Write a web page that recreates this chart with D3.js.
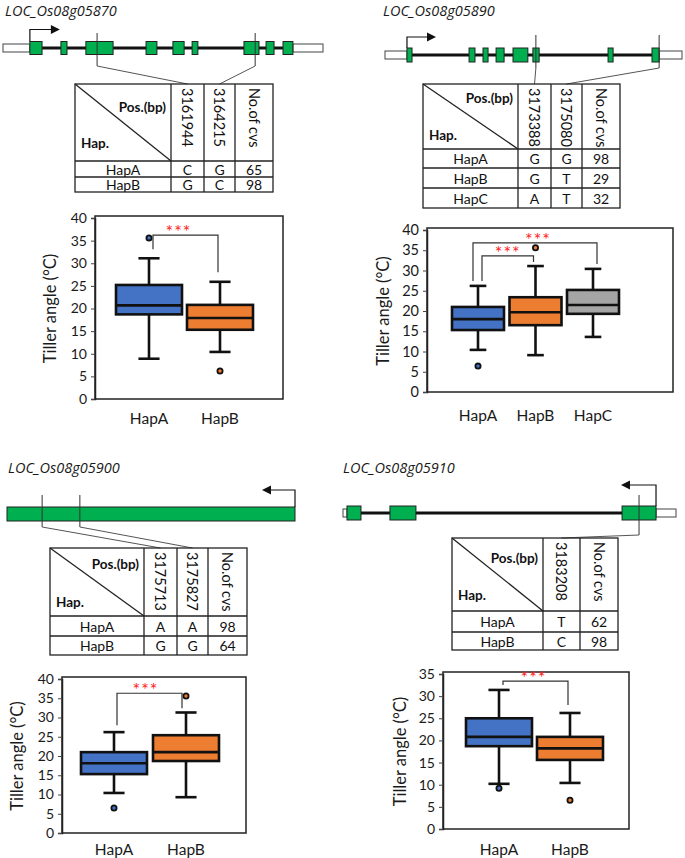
<!DOCTYPE html>
<html><head><meta charset="utf-8">
<script src="https://cdn.jsdelivr.net/npm/d3@7"></script>
<style>body{margin:0;background:#fff}</style>
</head><body>
<svg id="c" width="685" height="858"></svg>
<script>
// ---------------- DATA ----------------
const geneNames = ["LOC_Os08g05870", "LOC_Os08g05890", "LOC_Os08g05900", "LOC_Os08g05910"];

// gene models, in % of drawn gene length
const utr1 = [[0, 8.4], [90.6, 100]];
const exons1 = [[8.4, 12.2], [18.1, 20.0], [25.9, 34.4], [44.7, 48.1], [53.1, 56.6], [59.1, 60.9], [75.3, 80.0], [82.2, 84.7], [87.5, 90.6]];
const snps1 = [29.4, 78.8];

const utr2 = [[0, 7.4], [92.3, 100]];
const exons2 = [[7.4, 9.1], [28.3, 30.3], [33.0, 34.7], [37.4, 40.1], [43.1, 48.1], [49.8, 51.9], [75.1, 76.8], [89.9, 92.3]];
const snps2 = [50.8, 92.3];

const utr3 = [];
const exons3 = [[0, 100]];
const snps3 = [12.2, 25.3];

const utr4 = [[0, 1.2], [94.0, 100]];
const exons4 = [[1.2, 5.4], [14.1, 21.9], [83.8, 94.0]];
const snps4 = [88.9];

// haplotype tables
const positions1 = ["3161944", "3164215"];
const haps1 = ["HapA", "HapB"];
const alleles1 = [["C", "G"], ["G", "C"]];
const cvs1 = [65, 98];

const positions2 = ["3173388", "3175080"];
const haps2 = ["HapA", "HapB", "HapC"];
const alleles2 = [["G", "G"], ["G", "T"], ["A", "T"]];
const cvs2 = [98, 29, 32];

const positions3 = ["3175713", "3175827"];
const haps3 = ["HapA", "HapB"];
const alleles3 = [["A", "A"], ["G", "G"]];
const cvs3 = [98, 64];

const positions4 = ["3183208"];
const haps4 = ["HapA", "HapB"];
const alleles4 = [["T"], ["C"]];
const cvs4 = [62, 98];

// box plot statistics (tiller angle)
const box1 = [
  {hap: "HapA", min: 8.9, q1: 18.7, med: 20.7, q3: 25.2, max: 31.1, out: [35.6]},
  {hap: "HapB", min: 10.4, q1: 15.3, med: 17.9, q3: 20.8, max: 25.9, out: [6.2]}
];
const box2 = [
  {hap: "HapA", min: 10.4, q1: 15.3, med: 18.0, q3: 21.0, max: 26.2, out: [6.4]},
  {hap: "HapB", min: 9.1, q1: 16.5, med: 19.7, q3: 23.4, max: 31.1, out: [35.6]},
  {hap: "HapC", min: 13.6, q1: 19.3, med: 21.5, q3: 25.2, max: 30.4, out: []}
];
const box3 = [
  {hap: "HapA", min: 10.4, q1: 15.3, med: 18.1, q3: 21.0, max: 26.2, out: [6.5]},
  {hap: "HapB", min: 9.3, q1: 18.7, med: 21.0, q3: 25.4, max: 31.3, out: [35.6]}
];
const box4 = [
  {hap: "HapA", min: 10.2, q1: 18.7, med: 20.8, q3: 25.0, max: 31.4, out: [9.2]},
  {hap: "HapB", min: 10.4, q1: 15.6, med: 18.2, q3: 20.8, max: 26.2, out: [6.5]}
];

// significance brackets: [from, to, level, end at from, end at to]
const sig1 = [[0, 1, 36.2, 33.1, 28.0]];
const sig2 = [[0, 1, 33.6, 27.4, 32.1], [0, 2, 36.8, 27.4, 31.6]];
const sig3 = [[0, 1, 36.3, 28.0, 32.4]];
const sig4 = [[0, 1, 33.4, 32.5, 28.0]];
const sigLabel = "***";

const yTicks40 = [0, 5, 10, 15, 20, 25, 30, 35, 40];
const yTicks35 = [0, 5, 10, 15, 20, 25, 30, 35];
const yTitle = "Tiller angle (°C)";
const colors = ["#4472C4", "#ED7D31", "#A5A5A5"];

// ---------------- LAYOUT ----------------
const panels = [
  {name: geneNames[0], utr: utr1, exons: exons1, snps: snps1, positions: positions1, haps: haps1, alleles: alleles1, cvs: cvs1, box: box1, sig: sig1, ticks: yTicks40,
   title: [5, 16],
   gene: {x0: 3, x1: 323, y: 48, exonH: 13, utrH: 8, tss: 8.4, dir: 1, up: 12, len: 30, snpTop: 33, snpBot: 66},
   table: {cols: [75, 171, 204, 235, 273], rows: [84, 161, 177, 192], posDy: 28, hapDy: -13},
   plot: {left: 95, right: 283, yTop: 218, yBot: 399, centers: [149, 220], boxW: 66, labY: 424, sigDx: [[4, -2]], starDx: [-7], tickFs: 14, titleX: 50}},
  {name: geneNames[1], utr: utr2, exons: exons2, snps: snps2, positions: positions2, haps: haps2, alleles: alleles2, cvs: cvs2, box: box2, sig: sig2, ticks: yTicks40,
   title: [383, 16],
   gene: {x0: 385, x1: 682, y: 55, exonH: 14, utrH: 8, tss: 7.4, dir: 1, up: 11, len: 29, snpTop: 35, snpBot: 68},
   table: {cols: [423, 518, 551, 582, 620], rows: [84, 149, 168, 188, 208], posDy: 19, hapDy: -9},
   plot: {left: 427, right: 673, yTop: 230, yBot: 392, centers: [478, 535, 593], boxW: 52, labY: 421, sigDx: [[4, -2], [-5, 4]], starDx: [0, 3], tickFs: 14.5, titleX: 383}},
  {name: geneNames[2], utr: utr3, exons: exons3, snps: snps3, positions: positions3, haps: haps3, alleles: alleles3, cvs: cvs3, box: box3, sig: sig3, ticks: yTicks40,
   title: [8, 473],
   gene: {x0: 7, x1: 295, y: 514, exonH: 14, utrH: 8, tss: 100, dir: -1, up: 17, len: 33, snpTop: 495, snpBot: 527},
   table: {cols: [50, 144, 177, 208, 247], rows: [548, 616, 636, 655], posDy: 21, hapDy: -9},
   plot: {left: 62, right: 246, yTop: 679, yBot: 833, centers: [114, 186], boxW: 66, labY: 855, sigDx: [[3, -4]], starDx: [-4], tickFs: 14, titleX: 17}},
  {name: geneNames[3], utr: utr4, exons: exons4, snps: snps4, positions: positions4, haps: haps4, alleles: alleles4, cvs: cvs4, box: box4, sig: sig4, ticks: yTicks35,
   title: [343, 473],
   gene: {x0: 343, x1: 676, y: 513, exonH: 14, utrH: 8, tss: 94.0, dir: -1, up: 21, len: 35, snpTop: 495, snpBot: 535},
   table: {cols: [452, 543, 580, 618], rows: [538, 611, 632, 650], posDy: 25, hapDy: -11},
   plot: {left: 443, right: 629, yTop: 674, yBot: 829, centers: [499, 570], boxW: 66, labY: 855, sigDx: [[4, -2]], starDx: [-2], tickFs: 14, titleX: 400}}
];

// ---------------- DRAW ----------------
const svg = d3.select("#c");
const FONT = "Lato, 'Open Sans', sans-serif";

panels.forEach(P => {
  const g = svg.append("g");

  // title
  g.append("text").attr("x", P.title[0]).attr("y", P.title[1])
    .attr("font-family", "'Open Sans', sans-serif").attr("font-style", "italic")
    .attr("font-size", 14.5).attr("fill", "#1a1a1a").text(P.name);

  // gene model
  const G = P.gene;
  const gx = d3.scaleLinear().domain([0, 100]).range([G.x0, G.x1]);
  g.append("line").attr("x1", gx(0)).attr("x2", gx(100)).attr("y1", G.y).attr("y2", G.y)
    .attr("stroke", "#111").attr("stroke-width", 3);
  g.selectAll(".utr").data(P.utr).join("rect")
    .attr("x", d => gx(d[0])).attr("width", d => gx(d[1]) - gx(d[0]))
    .attr("y", G.y - G.utrH / 2).attr("height", G.utrH)
    .attr("fill", "#fff").attr("stroke", "#444").attr("stroke-width", 1);
  g.selectAll(".exon").data(P.exons).join("rect")
    .attr("x", d => gx(d[0])).attr("width", d => gx(d[1]) - gx(d[0]))
    .attr("y", G.y - G.exonH / 2).attr("height", G.exonH)
    .attr("fill", "#00B050").attr("stroke", "#222").attr("stroke-width", 1);
  // TSS arrow
  const tx = gx(G.tss), ttop = G.y - G.exonH / 2, ay = ttop - G.up;
  g.append("path").attr("d", `M${tx},${ttop}V${ay}H${tx + G.dir * (G.len - 8)}`)
    .attr("fill", "none").attr("stroke", "#111").attr("stroke-width", 1.2);
  g.append("path").attr("d", `M${tx + G.dir * G.len},${ay}L${tx + G.dir * (G.len - 9)},${ay - 4.5}L${tx + G.dir * (G.len - 9)},${ay + 4.5}Z`)
    .attr("fill", "#111");

  // table
  const T = P.table, c = T.cols, r = T.rows;
  const colCenters = P.positions.map((_, i) => (c[i + 1] + c[i + 2]) / 2);
  // SNP lines + connectors
  P.snps.forEach((s, i) => {
    g.append("line").attr("x1", gx(s)).attr("x2", gx(s)).attr("y1", G.snpTop).attr("y2", G.snpBot)
      .attr("stroke", "#333").attr("stroke-width", 1);
    g.append("line").attr("x1", gx(s)).attr("y1", G.snpBot).attr("x2", colCenters[i]).attr("y2", r[0])
      .attr("stroke", "#555").attr("stroke-width", 1);
  });
  const tl = g.append("g").attr("stroke", "#222").attr("stroke-width", 1.3);
  tl.append("rect").attr("x", c[0]).attr("y", r[0]).attr("width", c[c.length - 1] - c[0]).attr("height", r[r.length - 1] - r[0]).attr("fill", "none");
  c.slice(1, -1).forEach(x => tl.append("line").attr("x1", x).attr("x2", x).attr("y1", r[0]).attr("y2", r[r.length - 1]));
  r.slice(1, -1).forEach(y => tl.append("line").attr("x1", c[0]).attr("x2", c[c.length - 1]).attr("y1", y).attr("y2", y));
  tl.append("line").attr("x1", c[0]).attr("y1", r[0]).attr("x2", c[1]).attr("y2", r[1]);

  const tt = g.append("g").attr("font-family", FONT).attr("fill", "#111");
  tt.append("text").attr("x", c[1] - 5).attr("y", r[0] + T.posDy).attr("text-anchor", "end")
    .attr("font-weight", "bold").attr("font-size", 13.5).text("Pos.(bp)");
  tt.append("text").attr("x", c[0] + 6).attr("y", r[1] + T.hapDy)
    .attr("font-weight", "bold").attr("font-size", 13.5).text("Hap.");
  const headers = P.positions.concat(["No.of cvs"]);
  headers.forEach((h, i) => {
    const cx = (c[i + 1] + c[i + 2]) / 2;
    tt.append("text").attr("transform", `translate(${cx},${r[0] + 4}) rotate(90)`)
      .attr("dominant-baseline", "central").attr("font-size", 14.5).text(h);
  });
  P.haps.forEach((h, k) => {
    const cy = (r[k + 1] + r[k + 2]) / 2;
    const cells = [h].concat(P.alleles[k], [P.cvs[k]]);
    cells.forEach((v, j) => {
      tt.append("text").attr("x", (c[j] + c[j + 1]) / 2).attr("y", cy)
        .attr("text-anchor", "middle").attr("dominant-baseline", "central")
        .attr("font-size", 14).text(v);
    });
  });

  // box plot
  const Q = P.plot;
  const maxV = d3.max(P.ticks);
  const y = d3.scaleLinear().domain([0, maxV]).range([Q.yBot, Q.yTop]);
  const x = d3.scalePoint().domain(P.box.map(d => d.hap)).range([Q.centers[0], Q.centers[Q.centers.length - 1]]);
  g.append("rect").attr("x", Q.left).attr("y", Q.yTop - 2).attr("width", Q.right - Q.left).attr("height", Q.yBot - Q.yTop + 2)
    .attr("fill", "none").attr("stroke", "#222").attr("stroke-width", 1.5);
  const ax = g.append("g").attr("transform", `translate(${Q.left},0)`)
    .call(d3.axisLeft(y).tickValues(P.ticks).tickSize(4).tickPadding(4));
  ax.select(".domain").attr("stroke", "#222").attr("stroke-width", 1.5);
  ax.selectAll(".tick line").attr("stroke", "#444");
  ax.selectAll("text").attr("font-family", FONT).attr("font-size", Q.tickFs).attr("fill", "#1a1a1a");

  g.append("text").attr("transform", `translate(${Q.titleX},${(Q.yTop + Q.yBot) / 2}) rotate(-90)`)
    .attr("text-anchor", "middle").attr("dominant-baseline", "central")
    .attr("font-family", FONT).attr("font-size", 16.5).attr("fill", "#1a1a1a").text(yTitle);

  const bw = Q.boxW, cw = bw * 0.32;
  P.box.forEach((d, i) => {
    const cx = x(d.hap);
    const bg = g.append("g").attr("stroke", "#111").attr("stroke-width", 2.6);
    bg.append("line").attr("x1", cx).attr("x2", cx).attr("y1", y(d.max)).attr("y2", y(d.q3));
    bg.append("line").attr("x1", cx).attr("x2", cx).attr("y1", y(d.q1)).attr("y2", y(d.min));
    bg.append("line").attr("x1", cx - cw / 2).attr("x2", cx + cw / 2).attr("y1", y(d.max)).attr("y2", y(d.max));
    bg.append("line").attr("x1", cx - cw / 2).attr("x2", cx + cw / 2).attr("y1", y(d.min)).attr("y2", y(d.min));
    bg.append("rect").attr("x", cx - bw / 2).attr("width", bw).attr("y", y(d.q3)).attr("height", y(d.q1) - y(d.q3))
      .attr("fill", colors[i]);
    bg.append("line").attr("x1", cx - bw / 2).attr("x2", cx + bw / 2).attr("y1", y(d.med)).attr("y2", y(d.med));
    d.out.forEach(o => {
      g.append("circle").attr("cx", cx).attr("cy", y(o)).attr("r", 2.6)
        .attr("fill", colors[i]).attr("stroke", "#111").attr("stroke-width", 1.8);
    });
    g.append("text").attr("x", cx).attr("y", Q.labY).attr("text-anchor", "middle")
      .attr("font-family", FONT).attr("font-size", 15.5).attr("fill", "#1a1a1a").text(d.hap);
  });

  P.sig.forEach((s, k) => {
    const xa = x(P.box[s[0]].hap) + Q.sigDx[k][0];
    const xb = x(P.box[s[1]].hap) + Q.sigDx[k][1];
    g.append("path").attr("d", `M${xa},${y(s[3])}V${y(s[2])}H${xb}V${y(s[4])}`)
      .attr("fill", "none").attr("stroke", "#333").attr("stroke-width", 1.2);
    g.append("text").attr("x", (xa + xb) / 2 + Q.starDx[k]).attr("y", y(s[2]) + 3)
      .attr("text-anchor", "middle").attr("font-family", FONT).attr("font-size", 18)
      .attr("letter-spacing", 1).attr("fill", "#FF2020").text(sigLabel);
  });
});
</script>
</body></html>
